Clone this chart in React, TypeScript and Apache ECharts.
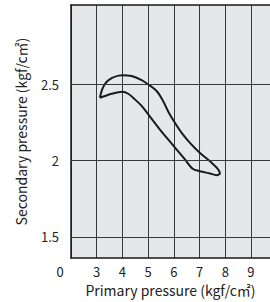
import React, { useEffect, useRef } from 'react';
import * as echarts from 'echarts';

// Closed loop: upper branch left->right, then lower branch right->left
const curveX = [
  3.125, 3.22, 3.38, 3.6, 3.85, 4.0, 4.358, 4.747, 5.004, 5.331, 5.576, 5.78,
  6.004, 6.304, 6.626, 7.016, 7.405, 7.728, 7.794, 7.665,
  7.405, 7.016, 6.732, 6.432, 6.004, 5.459, 5.004, 4.747, 4.486, 4.226, 3.992,
  3.58, 3.319, 3.125,
];
const curveY = [
  2.412, 2.47, 2.515, 2.542, 2.557, 2.56, 2.554, 2.527, 2.499, 2.456, 2.392, 2.322,
  2.257, 2.181, 2.116, 2.05, 1.995, 1.941, 1.915, 1.904,
  1.915, 1.93, 1.946, 2.007, 2.093, 2.203, 2.303, 2.358, 2.401, 2.438, 2.451,
  2.438, 2.423, 2.412,
];
const xTickLabels = [3, 4, 5, 6, 7, 8, 9];
const yTickLabels = [1.5, 2, 2.5];
const xOriginLabel = '0';
const xName = 'Primary pressure (kgf/c㎡)';
const yName = 'Secondary pressure (kgf/c㎡)';

export default function App() {
  const ref = useRef<HTMLDivElement>(null);
  useEffect(() => {
    const chart = echarts.init(ref.current!, null, { renderer: 'svg' });
    const font = '"Noto Sans CJK JP", "Noto Sans", sans-serif';
    const textColor = '#222';
    const gridColor = '#3a3a3a';
    const xMin = 2;
    const xMax = 9.74;
    chart.setOption({
      animation: false,
      grid: {
        left: 71,
        right: 0,
        top: 5,
        bottom: 43,
        show: true,
        backgroundColor: '#e6e7e9',
        borderWidth: 0,
      },
      xAxis: [
        {
          type: 'value',
          min: xMin,
          max: xMax,
          interval: 1,
          name: xName,
          nameLocation: 'middle',
          nameGap: 20,
          nameTextStyle: { fontFamily: font, fontSize: 14, color: textColor },
          axisLine: { show: true, onZero: false, lineStyle: { color: '#1a1a1a', width: 1.5 } },
          axisTick: { show: false },
          axisLabel: {
            margin: 7,
            fontFamily: font,
            fontSize: 13,
            color: textColor,
            showMaxLabel: false,
            formatter: (v: number) => {
              if (v === xMin) return '{z|' + xOriginLabel + '}';
              return xTickLabels.indexOf(v) >= 0 ? String(v) : '';
            },
            rich: {
              z: { fontFamily: font, fontSize: 13, color: textColor, padding: [0, 22, 0, 0] },
            },
          },
          splitLine: { show: true, lineStyle: { color: gridColor, width: 1 } },
        },
        {
          type: 'value',
          position: 'top',
          min: xMin,
          max: xMax,
          axisLine: { show: true, onZero: false, lineStyle: { color: '#1a1a1a', width: 1.5 } },
          axisTick: { show: false },
          axisLabel: { show: false },
          splitLine: { show: false },
        },
      ],
      yAxis: {
        type: 'value',
        min: 1.36,
        max: 3.02,
        name: yName,
        nameLocation: 'middle',
        nameGap: 43,
        nameTextStyle: { fontFamily: font, fontSize: 14, color: textColor },
        axisLine: { show: true, onZero: false, lineStyle: { color: '#1a1a1a', width: 1.5 } },
        axisTick: { show: false },
        axisLabel: {
          customValues: yTickLabels,
          margin: 12,
          fontFamily: font,
          fontSize: 13,
          color: textColor,
        },
        splitLine: { show: false },
      },
      series: [
        {
          type: 'line',
          data: [],
          z: 1,
          silent: true,
          markLine: {
            silent: true,
            symbol: ['none', 'none'],
            label: { show: false },
            lineStyle: { color: gridColor, width: 1, type: 'solid' },
            data: yTickLabels.map((v) => ({ yAxis: v })),
          },
        },
        {
          type: 'line',
          z: 3,
          data: curveX.map((x, i) => [x, curveY[i]]),
          showSymbol: false,
          smooth: 0.3,
          lineStyle: { color: '#1a1a1a', width: 2 },
        },
      ],
    });
    return () => chart.dispose();
  }, []);
  return (
    <div
      ref={ref}
      style={{ position: 'absolute', left: 0, top: 0, width: 270, height: 302 }}
    />
  );
}
